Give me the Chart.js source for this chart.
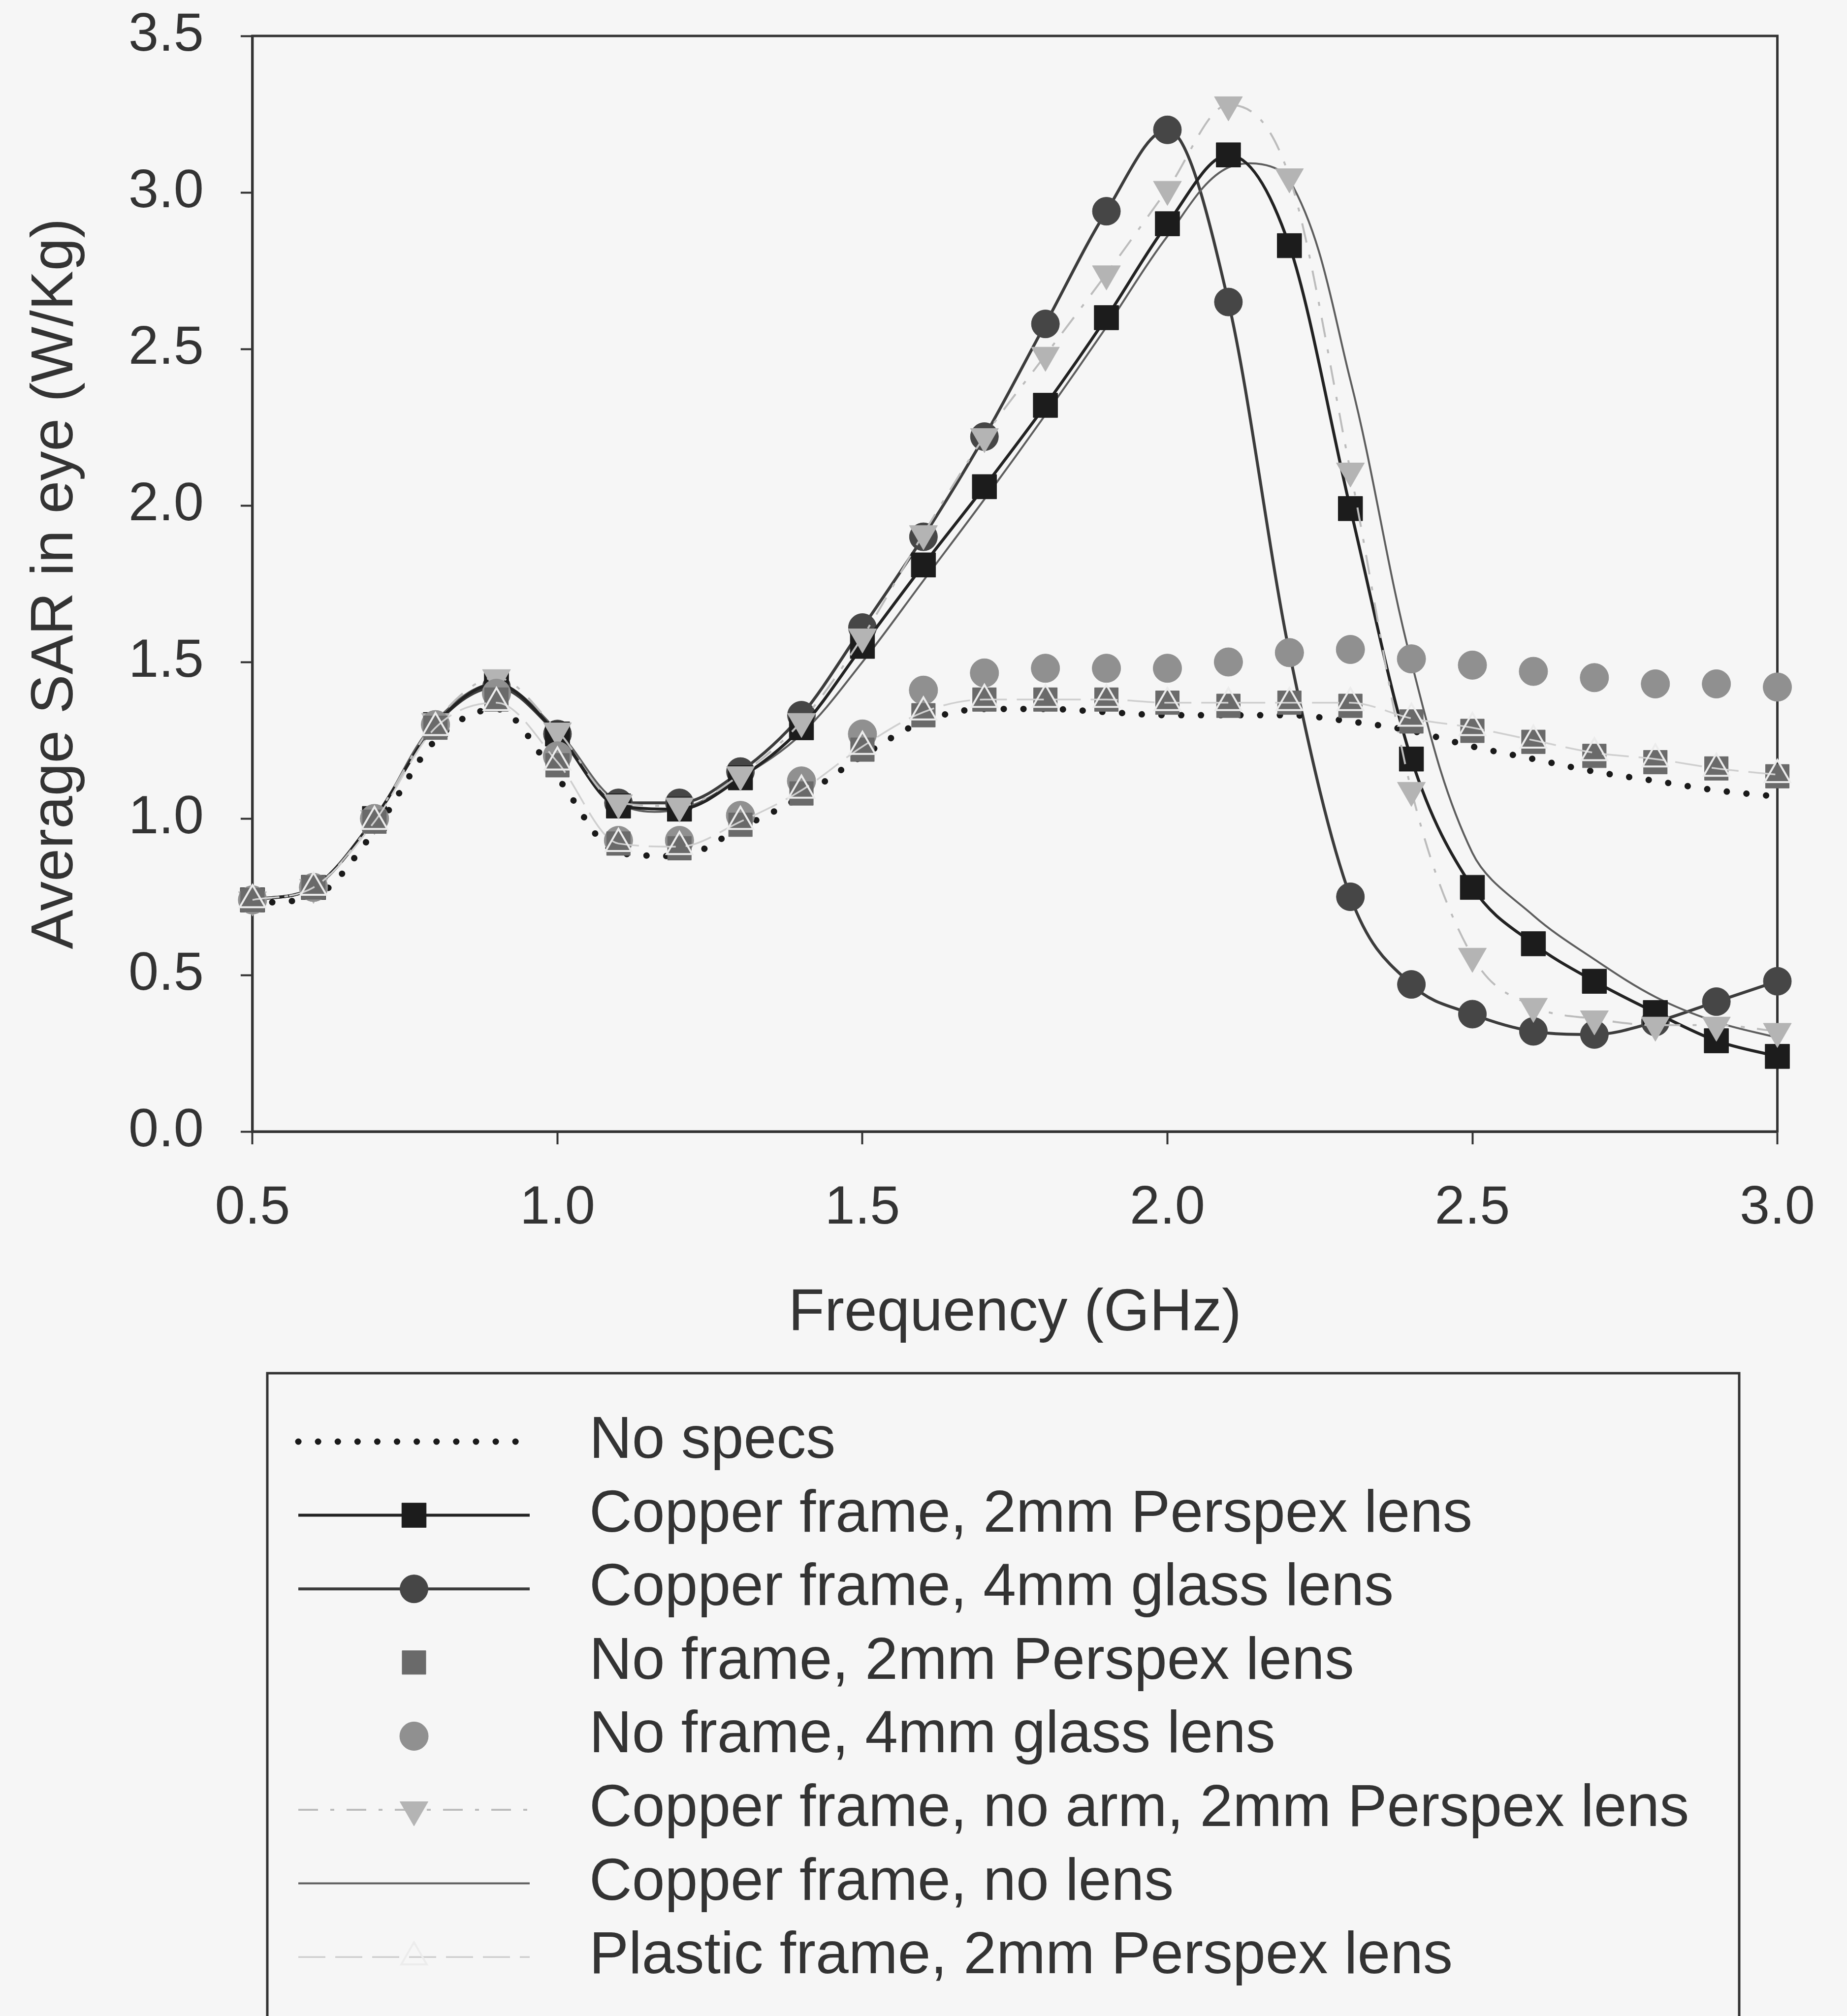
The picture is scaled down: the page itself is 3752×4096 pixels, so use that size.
<!DOCTYPE html>
<html>
<head>
<meta charset="utf-8">
<script src="https://cdn.jsdelivr.net/npm/chart.js@4.4.1/dist/chart.umd.min.js"></script>
<style>
  html, body { margin: 0; padding: 0; background: #f6f6f6; }
  #wrap { width: 3752px; height: 4096px; }
</style>
</head>
<body>
<div id="wrap"><canvas id="sarChart" width="3752" height="4096"></canvas></div>
<script>
// Частоти (GHz)
const freq = [0.5, 0.6, 0.7, 0.8, 0.9, 1.0, 1.1, 1.2, 1.3, 1.4, 1.5, 1.6, 1.7,
              1.8, 1.9, 2.0, 2.1, 2.2, 2.3, 2.4, 2.5, 2.6, 2.7, 2.8, 2.9, 3.0];

// Середній SAR в оці (W/Kg) для кожного випадку
const noSpecs        = [0.73, 0.75, 0.96, 1.25, 1.35, 1.13, 0.89, 0.88, 0.97, 1.07, 1.20, 1.31, 1.35,
                        1.35, 1.34, 1.33, 1.33, 1.33, 1.31, 1.28, 1.23, 1.19, 1.15, 1.12, 1.09, 1.07];
const copperPerspex  = [0.74, 0.78, 1.00, 1.30, 1.43, 1.27, 1.04, 1.03, 1.13, 1.29, 1.55, 1.81, 2.06,
                        2.32, 2.60, 2.90, 3.12, 2.83, 1.99, 1.19, 0.78, 0.60, 0.48, 0.38, 0.29, 0.24];
const copperGlass    = [0.74, 0.78, 1.00, 1.30, 1.42, 1.27, 1.05, 1.05, 1.15, 1.33, 1.61, 1.90, 2.22,
                        2.58, 2.94, 3.20, 2.65, 1.53, 0.75, 0.47, 0.375, 0.32, 0.31, 0.35, 0.415, 0.48];
const noFramePerspex = [0.74, 0.78, 0.99, 1.29, 1.38, 1.17, 0.92, 0.905, 0.98, 1.08, 1.22, 1.33, 1.38,
                        1.38, 1.38, 1.37, 1.36, 1.37, 1.36, 1.31, 1.28, 1.245, 1.20, 1.18, 1.16, 1.135];
const noFrameGlass   = [0.74, 0.78, 1.00, 1.30, 1.40, 1.20, 0.93, 0.93, 1.01, 1.12, 1.27, 1.41, 1.465,
                        1.48, 1.48, 1.48, 1.50, 1.53, 1.54, 1.51, 1.49, 1.47, 1.45, 1.43, 1.43, 1.42];
const noArmPerspex   = [0.74, 0.78, 1.00, 1.31, 1.45, 1.28, 1.05, 1.04, 1.14, 1.31, 1.58, 1.91, 2.22,
                        2.48, 2.74, 3.01, 3.28, 3.05, 2.11, 1.09, 0.56, 0.40, 0.36, 0.34, 0.34, 0.32];
const copperNoLens   = [0.74, 0.78, 1.00, 1.31, 1.43, 1.28, 1.05, 1.03, 1.13, 1.27, 1.50, 1.76, 2.02,
                        2.29, 2.57, 2.86, 3.08, 3.04, 2.40, 1.50, 0.89, 0.69, 0.55, 0.43, 0.35, 0.30];
const plasticPerspex = [0.74, 0.78, 0.99, 1.29, 1.37, 1.18, 0.92, 0.91, 0.99, 1.09, 1.23, 1.34, 1.38,
                        1.38, 1.38, 1.37, 1.37, 1.37, 1.37, 1.32, 1.29, 1.25, 1.21, 1.19, 1.16, 1.14];

const toPoints = arr => freq.map((f, i) => ({ x: f, y: arr[i] }));
const FONT = '"Liberation Sans", Arial, Helvetica, sans-serif';
const TEXT = '#333333';

Chart.defaults.font.family = FONT;
Chart.defaults.color = TEXT;

// Рамка навколо області графіка (верх і правий бік)
const frame = {
    id: 'frame',
    beforeDatasetsDraw(chart) {
        const { ctx, chartArea: a } = chart;
        ctx.save();
        ctx.strokeStyle = TEXT;
        ctx.lineWidth = 5;
        ctx.strokeRect(a.left, a.top, a.right - a.left, a.bottom - a.top);
        ctx.restore();
    }
};

// Легенда у рамці під графіком
const legendBox = {
    id: 'legendBox',
    afterDraw(chart) {
        const ctx = chart.ctx;
        const left = 543, top = 2790, right = 3533;
        ctx.save();
        ctx.strokeStyle = TEXT;
        ctx.lineWidth = 5;
        ctx.strokeRect(left, top, right - left, 1500);
        chart.data.datasets.forEach((ds, i) => {
            const y = 2929 + i * 149.6;
            const x0 = 606, x1 = 1076, xc = 841;
            if (ds.showLine !== false) {
                ctx.save();
                ctx.strokeStyle = ds.borderColor;
                ctx.lineWidth = ds.borderWidth;
                ctx.lineCap = ds.borderCapStyle || 'butt';
                ctx.setLineDash(ds.borderDash || []);
                ctx.beginPath();
                ctx.moveTo(x0, y);
                ctx.lineTo(x1, y);
                ctx.stroke();
                ctx.restore();
            }
            if (ds.pointRadius > 0) {
                ctx.save();
                ctx.fillStyle = ds.pointBackgroundColor;
                ctx.strokeStyle = ds.pointBorderColor;
                ctx.lineWidth = ds.pointBorderWidth;
                Chart.helpers.drawPoint(ctx, {
                    pointStyle: ds.pointStyle,
                    rotation: ds.pointRotation || 0,
                    radius: ds.pointRadius,
                    borderWidth: ds.pointBorderWidth
                }, xc, y);
                ctx.restore();
            }
            ctx.fillStyle = TEXT;
            ctx.font = '120px ' + FONT;
            ctx.textBaseline = 'middle';
            ctx.textAlign = 'left';
            ctx.fillText(ds.label, 1197, y);
        });
        ctx.restore();
    }
};

const ctx = document.getElementById('sarChart').getContext('2d');
const sarChart = new Chart(ctx, {
    type: 'line',
    data: {
        datasets: [
            {
                label: 'No specs',
                data: toPoints(noSpecs),
                borderColor: '#1a1a1a',
                borderWidth: 13,
                borderDash: [0.1, 40],
                borderCapStyle: 'round',
                pointRadius: 0,
                cubicInterpolationMode: 'monotone',
                order: 4
            },
            {
                label: 'Copper frame, 2mm Perspex lens',
                data: toPoints(copperPerspex),
                borderColor: '#222222',
                borderWidth: 6,
                pointStyle: 'rect',
                pointRadius: 35,
                pointBackgroundColor: '#1c1c1c',
                pointBorderColor: '#1c1c1c',
                pointBorderWidth: 1,
                cubicInterpolationMode: 'monotone',
                order: 6
            },
            {
                label: 'Copper frame, 4mm glass lens',
                data: toPoints(copperGlass),
                borderColor: '#3c3c3c',
                borderWidth: 6,
                pointStyle: 'circle',
                pointRadius: 28.5,
                pointBackgroundColor: '#464646',
                pointBorderColor: '#464646',
                pointBorderWidth: 1,
                cubicInterpolationMode: 'monotone',
                order: 8
            },
            {
                label: 'No frame, 2mm Perspex lens',
                data: toPoints(noFramePerspex),
                showLine: false,
                borderColor: '#6a6a6a',
                borderWidth: 0,
                pointStyle: 'rect',
                pointRadius: 34,
                pointBackgroundColor: '#6a6a6a',
                pointBorderColor: '#6a6a6a',
                pointBorderWidth: 1,
                order: 2
            },
            {
                label: 'No frame, 4mm glass lens',
                data: toPoints(noFrameGlass),
                showLine: false,
                borderColor: '#909090',
                borderWidth: 0,
                pointStyle: 'circle',
                pointRadius: 29,
                pointBackgroundColor: '#909090',
                pointBorderColor: '#909090',
                pointBorderWidth: 1,
                order: 3
            },
            {
                label: 'Copper frame, no arm, 2mm Perspex lens',
                data: toPoints(noArmPerspex),
                borderColor: '#bcbcbc',
                borderWidth: 4,
                borderDash: [40, 25, 8, 25],
                pointStyle: 'triangle',
                pointRotation: 180,
                pointRadius: 33,
                pointBackgroundColor: '#b4b4b4',
                pointBorderColor: '#b4b4b4',
                pointBorderWidth: 1,
                cubicInterpolationMode: 'monotone',
                order: 5
            },
            {
                label: 'Copper frame, no lens',
                data: toPoints(copperNoLens),
                borderColor: '#5e5e5e',
                borderWidth: 4,
                pointRadius: 0,
                tension: 0.35,
                order: 7
            },
            {
                label: 'Plastic frame, 2mm Perspex lens',
                data: toPoints(plasticPerspex),
                borderColor: '#cfcfcf',
                borderWidth: 3.5,
                borderDash: [55, 20],
                pointStyle: 'triangle',
                pointRadius: 30,
                pointBackgroundColor: 'rgba(0,0,0,0)',
                pointBorderColor: '#ececec',
                pointBorderWidth: 4,
                cubicInterpolationMode: 'monotone',
                order: 1
            }
        ]
    },
    options: {
        responsive: false,
        animation: false,
        devicePixelRatio: 1,
        clip: false,
        datasets: { line: { clip: false } },
        layout: { padding: { left: 0, right: 125, top: 73, bottom: 1354 } },
        plugins: {
            legend: { display: false },
            tooltip: { enabled: false }
        },
        scales: {
            x: {
                type: 'linear',
                min: 0.5,
                max: 3.0,
                ticks: {
                    stepSize: 0.5,
                    padding: 65,
                    font: { size: 110 },
                    color: TEXT,
                    callback: v => v.toFixed(1)
                },
                grid: { drawOnChartArea: false, drawTicks: true, tickLength: 26, tickWidth: 4, tickColor: TEXT },
                border: { display: true, color: TEXT, width: 5 },
                title: {
                    display: true,
                    text: 'Frequency (GHz)',
                    font: { size: 120 },
                    color: TEXT,
                    padding: { top: 11, bottom: 0 }
                }
            },
            y: {
                type: 'linear',
                min: 0,
                max: 3.5,
                afterFit(axis) {
                    // верх області графіка задає лише layout.padding
                    axis.paddingTop = 0;
                    axis.paddingBottom = 0;
                },
                ticks: {
                    stepSize: 0.5,
                    padding: 75,
                    font: { size: 110 },
                    color: TEXT,
                    callback: v => v.toFixed(1)
                },
                grid: { drawOnChartArea: false, drawTicks: true, tickLength: 24, tickWidth: 4, tickColor: TEXT },
                border: { display: true, color: TEXT, width: 5 },
                title: {
                    display: true,
                    text: 'Average SAR in eye (W/Kg)',
                    font: { size: 120 },
                    color: TEXT,
                    padding: { top: 42, bottom: 0 }
                }
            }
        }
    },
    plugins: [frame, legendBox]
});
</script>
</body>
</html>
